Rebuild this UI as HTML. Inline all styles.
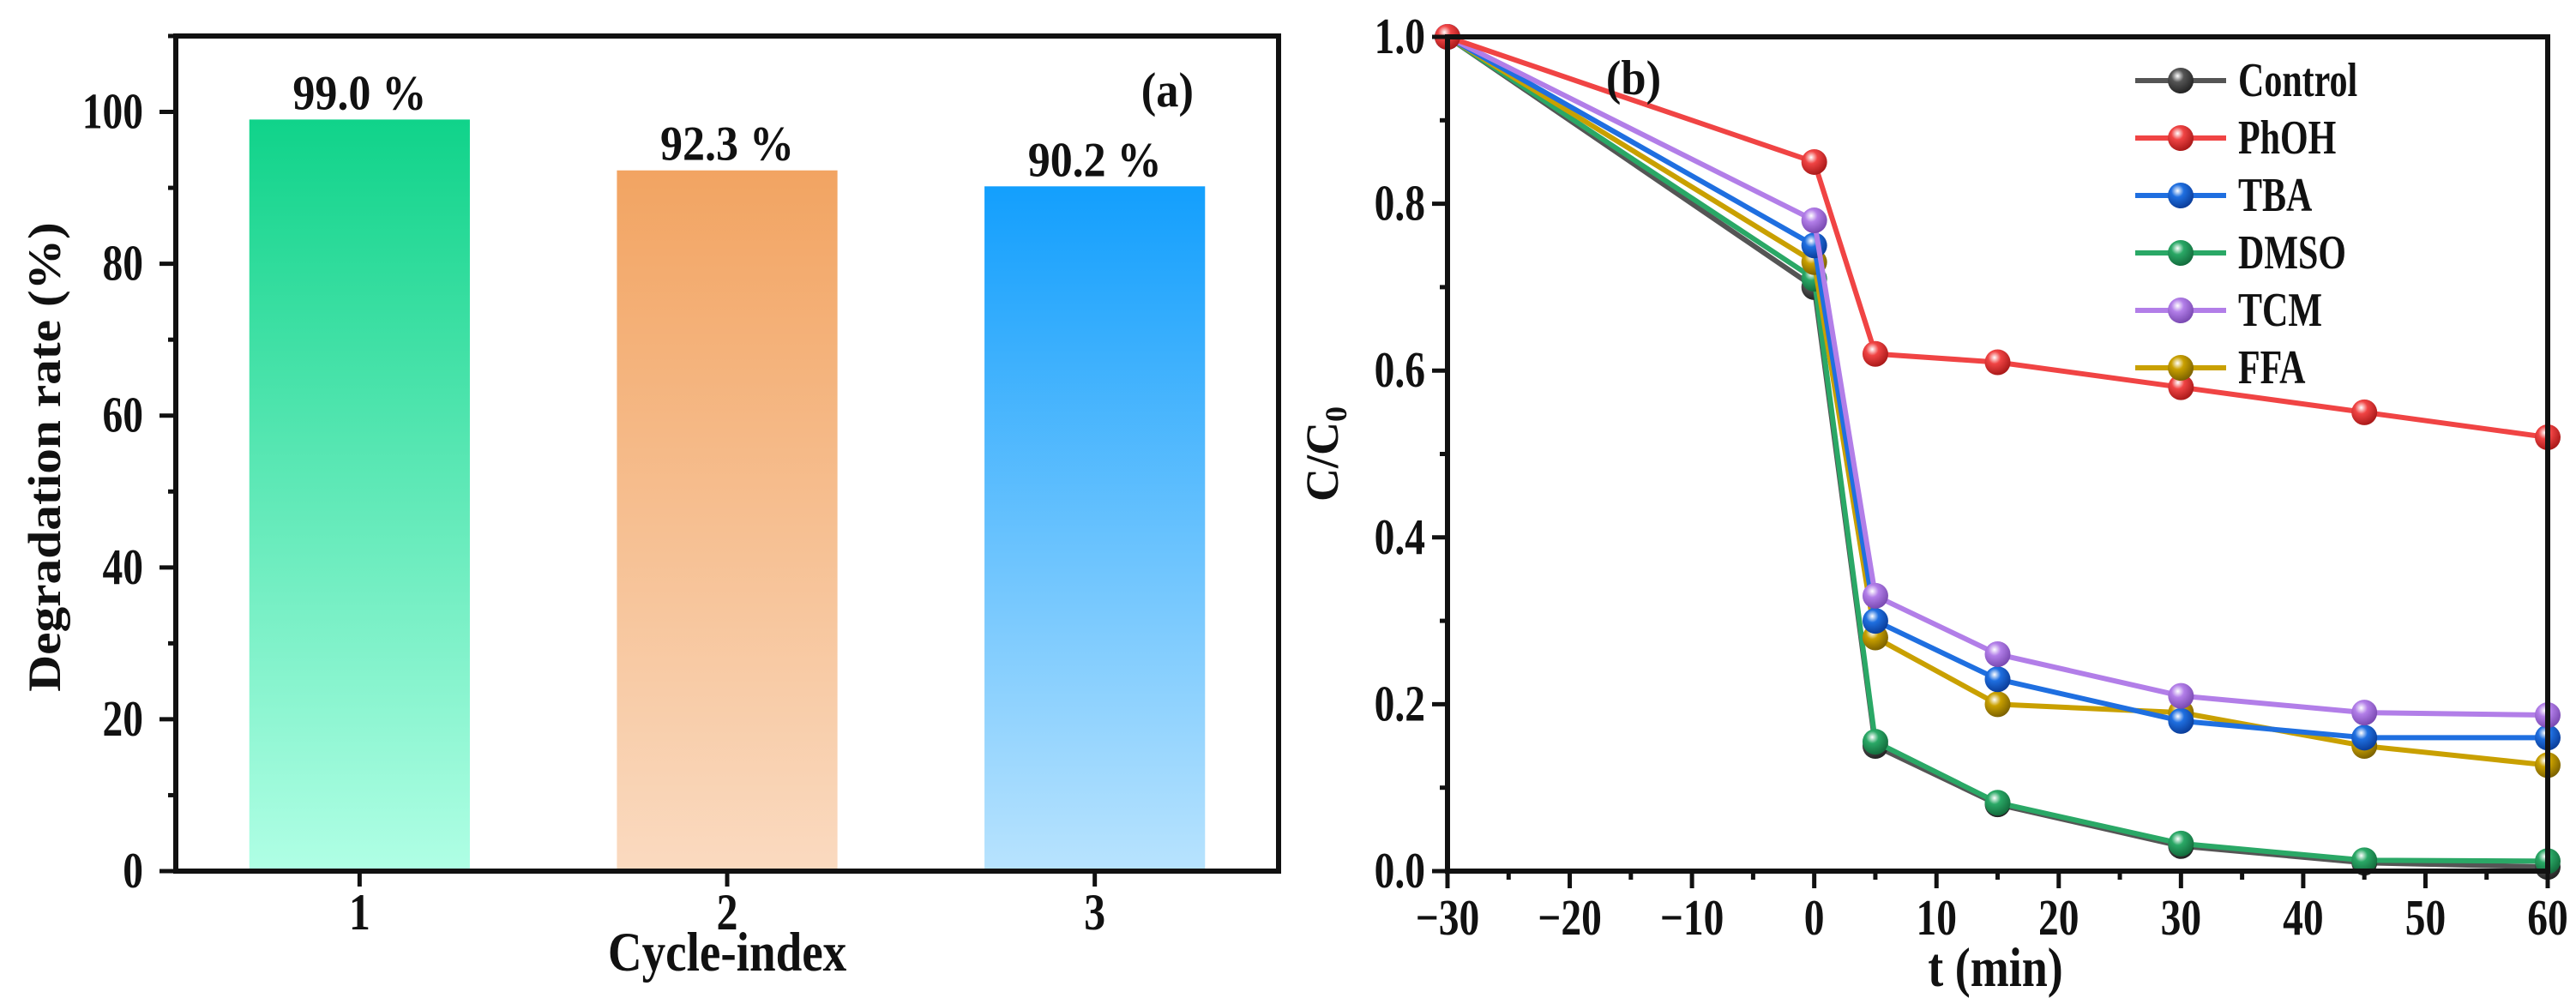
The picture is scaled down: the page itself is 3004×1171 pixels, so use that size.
<!DOCTYPE html>
<html><head><meta charset="utf-8"><style>
html,body{margin:0;padding:0;background:#fff;}
svg{display:block;font-family:"Liberation Serif",serif;font-weight:bold;}
</style></head><body>
<svg id="chart" width="3004" height="1171" viewBox="0 0 3004 1171" xmlns="http://www.w3.org/2000/svg">
<defs>
<linearGradient id="g1" x1="0" y1="0" x2="0" y2="1"><stop offset="0" stop-color="#10d38a"/><stop offset="1" stop-color="#b0ffe5"/></linearGradient>
<linearGradient id="g2" x1="0" y1="0" x2="0" y2="1"><stop offset="0" stop-color="#f2a462"/><stop offset="1" stop-color="#fadac0"/></linearGradient>
<linearGradient id="g3" x1="0" y1="0" x2="0" y2="1"><stop offset="0" stop-color="#139ffd"/><stop offset="1" stop-color="#b8e3fe"/></linearGradient>
</defs>
<g id="panelA"></g>
<g id="panelB"></g>
</svg>
<script>
const NS="http://www.w3.org/2000/svg";
// Panel A data
const cycleCategories=["1","2","3"];
const degradationValues=[99.0,92.3,90.2];
const degradationLabels=["99.0 %","92.3 %","90.2 %"];
const yTicksA=[0,20,40,60,80,100];
// Panel B data
const timePoints=[-30,0,5,15,30,45,60];
const seriesNames=["Control","PhOH","TBA","DMSO","TCM","FFA"];
const controlValues=[1.0,0.70,0.15,0.08,0.03,0.01,0.005];
const phohValues=[1.0,0.85,0.62,0.61,0.58,0.55,0.52];
const tbaValues=[1.0,0.75,0.30,0.23,0.18,0.16,0.16];
const dmsoValues=[1.0,0.71,0.155,0.082,0.033,0.013,0.012];
const tcmValues=[1.0,0.78,0.33,0.26,0.21,0.19,0.187];
const ffaValues=[1.0,0.73,0.28,0.20,0.19,0.15,0.127];
const xTicksB=[-30,-20,-10,0,10,20,30,40,50,60];
const yTicksB=[0.0,0.2,0.4,0.6,0.8,1.0];

function el(tag,attrs,parent,text){const e=document.createElementNS(NS,tag);for(const k in attrs)e.setAttribute(k,attrs[k]);if(text!==undefined)e.textContent=text;parent.appendChild(e);return e;}
function txt(parent,x,y,size,anchor,str,sx,sy,rot){
  let tr='translate('+x+','+y+')'+(rot?' rotate('+rot+')':'')+' scale('+sx+','+sy+')';
  return el('text',{x:0,y:0,'font-size':size,'text-anchor':anchor,fill:'#111',transform:tr},parent,str);
}

// ---------- Panel A ----------
const A=document.getElementById('panelA');
const aL=205,aR=1491,aT=42,aB=1016;
const ax=i=>aL+(aR-aL)*(i+0.5)/cycleCategories.length;
const ay=v=>aB-(aB-aT)*v/110;
const bw=(aR-aL)/cycleCategories.length*0.6;
const grads=["url(#g1)","url(#g2)","url(#g3)"];
degradationValues.forEach((v,i)=>{
  const r=el('rect',{x:ax(i)-bw/2,y:ay(v),width:bw,height:aB-ay(v),fill:grads[i]},A);
  
  
  const t=txt(A,ax(i),ay(v)-12,50,'middle',degradationLabels[i],1.04,1.15);
  
  
});
for(let v=0;v<=110;v+=10){
  const tk=el('line',{x1:aL-(v%20===0?19:9),x2:aL,y1:ay(v),y2:ay(v),stroke:'#111','stroke-width':5},A);
  
  
}
yTicksA.forEach(v=>{
  const t=txt(A,aL-38,ay(v)+19,50,'end',String(v),0.95,1.18);
  
  
});
cycleCategories.forEach((c,i)=>{
  const tk=el('line',{x1:ax(i),x2:ax(i),y1:aB,y2:aB+18,stroke:'#111','stroke-width':5},A);
  
  
  const t=txt(A,ax(i),1084,50,'middle',c,1,1.2);
  
  
});
const fa=el('rect',{x:aL,y:aT,width:aR-aL,height:aB-aT,fill:'none',stroke:'#111','stroke-width':6},A);

let t=txt(A,(aL+aR)/2,1132,54,'middle','Cycle-index',1.02,1.2);

t=txt(A,70,(aT+aB)/2+4,54,'middle','Degradation rate (%)',1.1,1.0,-90);

t=txt(A,1392,124,50,'end','(a)',1.05,1.15);


// ---------- Panel B ----------
const B=document.getElementById('panelB');
const bL=1688,bR=2971,bT=43,bB=1016;
const bx=v=>bL+(bR-bL)*(v+30)/90;
const by=v=>bB-(bB-bT)*v;
const defs=document.querySelector('defs');
const clip=el('clipPath',{id:'clipB'},defs);
el('rect',{x:bL-25,y:bT-25,width:bR-bL+50,height:bB-bT+50},clip);
const allSeries=[controlValues,phohValues,tbaValues,dmsoValues,tcmValues,ffaValues];
const colors=["#555555","#f04444","#1f6fe0","#2aa866","#b27ee8","#c9a000"];
const dark=["#222","#a81818","#0a3c98","#136b3c","#7848b0","#7a6000"];
colors.forEach((c,i)=>{
  const g=el('radialGradient',{id:'m'+i,cx:'0.38',cy:'0.32',r:'0.7'},defs);
  el('stop',{offset:'0','stop-color':'#ffffff'},g);
  el('stop',{offset:'0.35','stop-color':c},g);
  el('stop',{offset:'1','stop-color':dark[i]},g);
});
const plotG=el('g',{'clip-path':'url(#clipB)'},B);
const order=[0,3,5,2,4,1];
order.forEach(si=>{
  const vals=allSeries[si];
  const pts=vals.map((v,j)=>bx(timePoints[j])+','+by(v)).join(' ');
  const pl=el('polyline',{points:pts,fill:'none',stroke:colors[si],'stroke-width':6,'stroke-linejoin':'round'},plotG);
  
  
  vals.forEach((v,j)=>{
    const c=el('circle',{cx:bx(timePoints[j]),cy:by(v),r:15,fill:'url(#m'+si+')'},plotG);
    
    
  });
});
for(let v=-30;v<=60;v+=5){
  const tk=el('line',{x1:bx(v),x2:bx(v),y1:bB,y2:bB+(v%10===0?20:10),stroke:'#111','stroke-width':5},B);
  
  
}
xTicksB.forEach(v=>{
  const tt=txt(B,bx(v),1090,50,'middle',v<0?'\u2212'+(-v):String(v),0.95,1.18);
  
  
});
for(let k=0;k<=10;k++){
  const v=k/10;
  const tk=el('line',{x1:bL-(k%2===0?18:9),x2:bL,y1:by(v),y2:by(v),stroke:'#111','stroke-width':5},B);
  
  
}
yTicksB.forEach(v=>{
  const tt=txt(B,bL-26,by(v)+19,50,'end',v.toFixed(1),0.95,1.18);
  
  
});
const fb=el('rect',{x:bL,y:bT,width:bR-bL,height:bB-bT,fill:'none',stroke:'#111','stroke-width':6},B);

t=txt(B,2327,1150,54,'middle','t (min)',1.0,1.2);

t=txt(B,1560,(bT+bB)/2,54,'middle','',1.0,1.0,-90);

t.appendChild(document.createTextNode('C/C'));
el('tspan',{'font-size':36,dy:10},t,'0');
t=txt(B,1905,110,50,'middle','(b)',1.05,1.15);

// legend
const lg=el('g',{},B);

seriesNames.forEach((n,i)=>{
  const y=94+i*67;
  const e=el('g',{},lg);
  
  
  el('line',{x1:2490,x2:2596,y1:y,y2:y,stroke:colors[i],'stroke-width':6},e);
  el('circle',{cx:2543,cy:y,r:15,fill:'url(#m'+i+')'},e);
  txt(e,2610,y+18,50,'start',n,0.84,1.12);
});
</script>
</body></html>
